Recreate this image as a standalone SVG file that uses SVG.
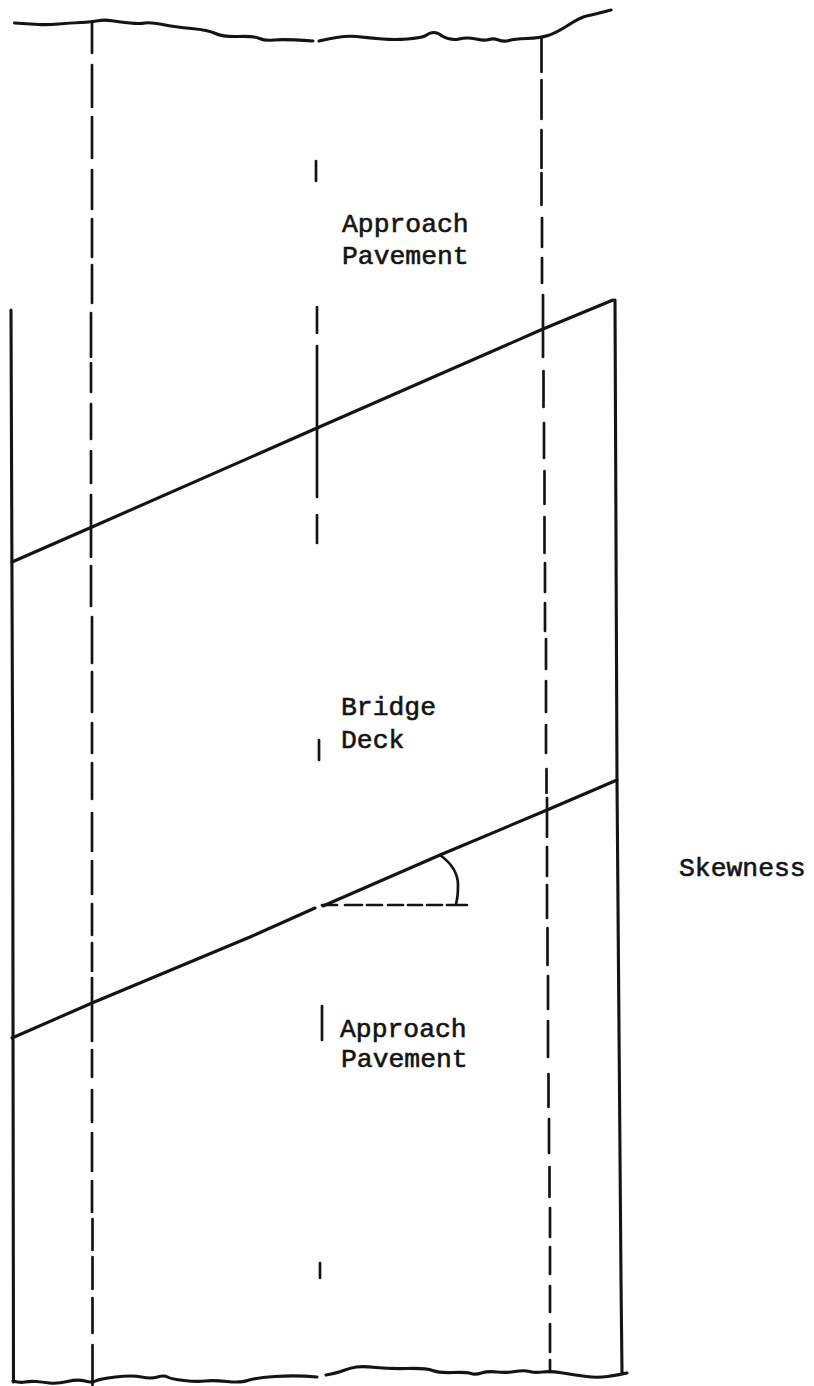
<svg xmlns="http://www.w3.org/2000/svg" width="814" height="1386" viewBox="0 0 814 1386">
<style>
.s{fill:none;stroke:#141414;stroke-linecap:round;stroke-linejoin:round}
.w{stroke-width:3.100}
.m{stroke-width:2.700}
.t{font-family:"Liberation Mono","DejaVu Sans Mono",monospace;font-size:26.400px;fill:#141414;stroke:#141414;stroke-width:.6}
</style>
<rect width="814" height="1386" fill="#fefefe"/>
<g id="connectors">
<g id="outline" class="s w">
<path d="M14.500 23Q30 24 38.500 24.500Q47 25 58.500 24Q70 23 81 22.500Q92 22 98 20.800Q104 19.500 112 20.800Q120 22 130 23Q140 24 145 23Q150 22 162.500 24.500Q175 27 191.500 28.500Q208 30 215.500 33.500Q223 37 238.500 36.500Q254 36 259.500 38.500Q265 41 274 40Q283 39 313 41"/>
<path d="M319 41Q343 35 356.500 36.500Q370 38 382.500 39Q395 40 407.500 39Q420 38 425 36Q434 29 442 36Q451 41 459 39Q467 37 476 39Q485 41 489 39.500Q493 38 498.500 40Q504 42 509 40.500Q514 39 527 38.500Q540 38 548 35.500Q556 33 568.500 25Q581 17 586.500 16Q592 15 611 10"/>
<path d="M13 1381Q20 1383 25 1382Q30 1381 36 1381.500Q42 1382 49.500 1383Q57 1384 67.500 1381.500Q78 1379 85 1381Q92 1383 95.500 1381Q99 1379 115.500 1377Q132 1375 141.500 1377Q151 1379 157.500 1377Q164 1375 167.500 1377Q171 1379 184 1380.500Q197 1382 205 1381Q213 1380 227 1381.500Q241 1383 247.500 1380.500Q254 1378 275 1376.500Q296 1375 317 1377"/>
<path d="M326 1375Q337 1373 343.500 1370.500Q350 1368 356.500 1367Q363 1366 376 1367.500Q389 1369 407.500 1368.500Q426 1368 432.500 1370.500Q439 1373 453 1372.500Q467 1372 471 1373.500Q475 1375 481.500 1373Q488 1371 497 1372Q506 1373 515 1371.500Q524 1370 529.500 1371.500Q535 1373 542.500 1372Q550 1371 563 1373Q576 1375 586.500 1376.500Q597 1378 607.500 1376.500Q618 1375 627 1373"/>
<path d="M11 310L12.700 780L13.500 1382"/>
<path d="M615 300L617 780L621 1280L622 1373"/>
<path d="M12 562L92 527L317 428L543 329L613 300"/>
<path d="M12 1038L92 1003L250 937L315 908"/>
<path d="M323 906L440 855L547 810L617 780"/>
</g>
<g id="left-dashes" class="s m">
<path d="M92 22V53M92 65V107M92 117V158M92 170V209M92 219V257M92 265V303M91 313V357M91 363V392M91 404V439M91 451V483M91 495V557M91 566V606M92 617V663M92 672V712M92 723V753M92 763V799M92 813V851M92 861V894M92 904V935M92 943V971M92 978V1041M92 1050V1077M92 1090V1122M92 1133V1171M92 1181V1212M92.500 1219V1250M92.500 1257V1289M92.500 1298V1333M92.500 1345V1385"/>
</g>
<g id="right-dashes" class="s m">
<path d="M541.500 38V72M541.500 80V119M541.500 130V168M541.500 173V205M542 218V247M542 258V283M543 295V357M543.500 371V407M544 423V458M544.500 471V504M544.500 517V553M545 563V592M545 603V631M546 639V669M546 681V712M546 725V753M546.500 769V793M547 798V837M547 847V876M547 885V918M547.500 928V965M548 976V1009M548 1021V1057M548.500 1074V1107M549 1119V1153M549.500 1167V1197M550 1208V1237M550 1247V1274M550 1286V1312M550 1324V1352M550 1360V1372"/>
</g>
<g id="centre-dashes" class="s m">
<path d="M316 161V181M317 307V333M317 346V497M317 515V543M319 740V760M322 1006V1040M320 1263V1278"/>
</g>
<g id="skew-angle" class="s m">
<path d="M322 905H337M345 905H362M367 905H382M388 905H403M408 905H422M427 905H442M447 905H467"/>
<path d="M440 855Q458 868 458 885Q458 897 456 904"/>
</g>
</g>
<g id="approach-top"><text class="t" x="342" y="232">Approach</text><text class="t" x="342" y="264">Pavement</text></g>
<g id="bridge-deck"><text class="t" x="341" y="715">Bridge</text><text class="t" x="341" y="748">Deck</text></g>
<g id="approach-bottom"><text class="t" x="340" y="1037">Approach</text><text class="t" x="341" y="1067">Pavement</text></g>
<g id="skewness"><text class="t" x="679" y="876">Skewness</text></g>
</svg>
